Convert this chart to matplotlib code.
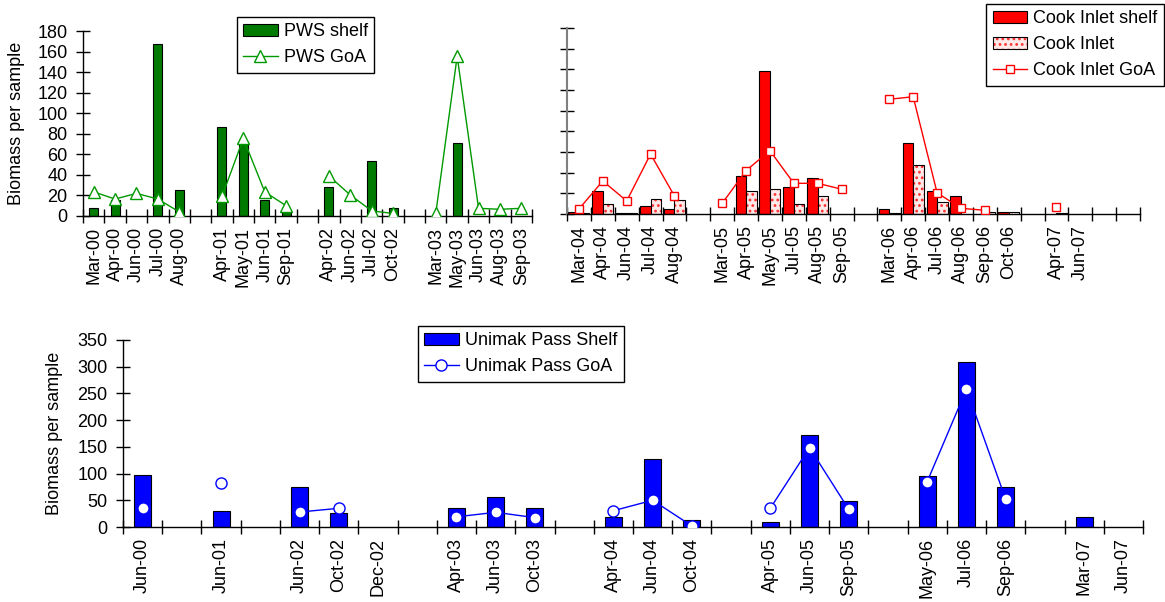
import numpy as np
import matplotlib
matplotlib.use("Agg")
import matplotlib.pyplot as plt
from matplotlib.patches import Patch
from matplotlib.lines import Line2D

plt.rcParams['font.family'] = ['Liberation Sans', 'DejaVu Sans']
plt.rcParams['font.size'] = 13
plt.rcParams['hatch.linewidth'] = 1.2

nan = np.nan

# Prince William Sound
pws_months = ['Mar-00', 'Apr-00', 'Jun-00', 'Jul-00', 'Aug-00', '',
              'Apr-01', 'May-01', 'Jun-01', 'Sep-01', '',
              'Apr-02', 'Jun-02', 'Jul-02', 'Oct-02', '',
              'Mar-03', 'May-03', 'Jun-03', 'Aug-03', 'Sep-03']
pws_shelf = [7.5, 15.5, nan, 167, 25, nan,
             87, 71, 15.5, 5, nan,
             28, nan, 54, 7.5, nan,
             nan, 71, nan, 1.5, nan]
pws_goa = [23.5, 16.5, 22, 16.5, 4, nan,
           19, 75.5, 23.5, 10, nan,
           39, 20.5, 5, 2.5, nan,
           2.5, 155.5, 7.5, 6.5, 7.5]

# Cook Inlet
ci_months = ['Mar-04', 'Apr-04', 'Jun-04', 'Jul-04', 'Aug-04', '',
             'Mar-05', 'Apr-05', 'May-05', 'Jul-05', 'Aug-05', 'Sep-05', '',
             'Mar-06', 'Apr-06', 'Jul-06', 'Aug-06', 'Sep-06', 'Oct-06', '',
             'Apr-07', 'Jun-07', '', '']
ci_shelf = [2, 22.5, 0.6, 7.5, 5.2, nan,
            nan, 37, 138, 26.5, 34.5, nan, nan,
            5.2, 68.5, 22.5, 17.7, nan, 2, nan,
            nan, nan, nan, nan]
ci_inlet = [0.6, 10, 0.6, 14.2, 13.2, nan,
            nan, 22, 24.5, 10, 17, nan, nan,
            0.6, 47.5, 11.3, nan, 2.2, 2, nan,
            0.7, nan, nan, nan]
ci_goa = [4.8, 32, 12.6, 58, 17.4, nan,
          10.3, 42, 61.3, 29.7, 29.7, 24, nan,
          111, 113.5, 20.6, 5.5, 3.6, nan, nan,
          7, nan, nan, nan]

# Unimak Pass
up_months = ['Jun-00', '', 'Jun-01', '', 'Jun-02', 'Oct-02', 'Dec-02', '',
             'Apr-03', 'Jun-03', 'Oct-03', '', 'Apr-04', 'Jun-04', 'Oct-04', '',
             'Apr-05', 'Jun-05', 'Sep-05', '', 'May-06', 'Jul-06', 'Sep-06', '',
             'Mar-07', 'Jun-07']
up_shelf = [97, nan, 30, nan, 75, 26, nan, nan,
            36, 56, 36, nan, 19, 128, 12.5, nan,
            10, 172, 49, nan, 95, 309, 75.5, nan,
            18, nan]
up_goa = [35, nan, 83, nan, 28, 35, nan, nan,
          19, 27.5, 17.5, nan, 30.5, 50, 2, nan,
          35, 148.5, 33, nan, 85, 258, 52, nan,
          nan, nan]

W, H = 1165, 602


def setup_axis(ax, labels, ymax, ystep, show_ylabels=True, yspine='black'):
    n = len(labels)
    ax.set_xlim(-0.5, n - 0.5)
    ax.set_ylim(0, ymax)
    ax.set_xticks(np.arange(n))
    ax.set_xticklabels(labels, rotation=90)
    ax.set_xticks(np.arange(n + 1) - 0.5, minor=True)
    ax.tick_params(axis='x', which='major', length=0, pad=8)
    ax.tick_params(axis='x', which='minor', direction='inout', length=10, width=1)
    ax.set_yticks(np.arange(0, ymax + 1, ystep))
    ax.tick_params(axis='y', direction='inout', length=10, width=1, pad=6,
                   labelleft=show_ylabels)
    for side in ('top', 'right'):
        ax.spines[side].set_visible(False)
    ax.spines['bottom'].set_linewidth(1)
    ax.spines['left'].set_color(yspine)
    ax.spines['left'].set_linewidth(1.5 if yspine != 'black' else 1)


def boxed_legend(ax, handles, labels, anchor, loc):
    leg = ax.legend(handles, labels, loc=loc, bbox_to_anchor=anchor,
                    bbox_transform=ax.figure.transFigure, fancybox=False,
                    edgecolor='black', framealpha=1, borderpad=0.35,
                    labelspacing=0.5, handlelength=1.9, handletextpad=0.35,
                    borderaxespad=0)
    leg.get_frame().set_linewidth(1)
    return leg


fig = plt.figure(figsize=(W / 100, H / 100), dpi=100)

# --- PWS panel ---
ax1 = fig.add_axes([83 / W, 1 - 216 / H, (532 - 83) / W, (216 - 31) / H])
x1 = np.arange(len(pws_months))
ax1.bar(x1, pws_shelf, 0.42, color='#007a00', edgecolor='black', linewidth=0.8, zorder=2)
ax1.plot(x1, pws_goa, color='#009900', lw=1, marker='^', ms=8, mfc='white',
         mec='#009900', mew=1, zorder=3)
setup_axis(ax1, pws_months, 180, 20)
ax1.set_ylabel('Biomass per sample')
ax1.yaxis.set_label_coords((25 - 83) / 449, 0.5)
boxed_legend(ax1,
             [Patch(facecolor='#007a00', edgecolor='black', linewidth=0.8),
              Line2D([], [], color='#009900', lw=1, marker='^', ms=8, mfc='white', mec='#009900')],
             ['PWS shelf', 'PWS GoA'], (237 / W, 1 - 17 / H), 'upper left')

# --- Cook Inlet panel ---
ax2 = fig.add_axes([567 / W, 1 - 214 / H, (1140 - 567) / W, (214 - 28) / H])
x2 = np.arange(len(ci_months))
bw = 0.44
ax2.bar(x2 - bw / 2, ci_shelf, bw, color='red', edgecolor='black', linewidth=0.8, zorder=2)
ax2.bar(x2 + bw / 2, ci_inlet, bw, color='#ffe8e8', edgecolor='#ff3030', hatch='...',
        linewidth=0, zorder=2)
ax2.bar(x2 + bw / 2, ci_inlet, bw, fill=False, edgecolor='black', linewidth=0.8, zorder=2)
ax2.plot(x2, ci_goa, color='red', lw=1, marker='s', ms=5.5, mfc='white', mec='red',
         mew=1, zorder=3)
setup_axis(ax2, ci_months, 180, 20, show_ylabels=False, yspine='#808080')
inlet_handle = (Patch(facecolor='#ffe8e8', edgecolor='#ff3030', hatch='...', linewidth=0),
                Patch(fill=False, edgecolor='black', linewidth=0.8))
boxed_legend(ax2,
             [Patch(facecolor='red', edgecolor='black', linewidth=0.8), inlet_handle,
              Line2D([], [], color='red', lw=1, marker='s', ms=5.5, mfc='white', mec='red')],
             ['Cook Inlet shelf', 'Cook Inlet', 'Cook Inlet GoA'],
             (1164 / W, 1 - 4 / H), 'upper right')

# --- Unimak Pass panel ---
ax3 = fig.add_axes([123 / W, 1 - 527 / H, (1143 - 123) / W, (527 - 340) / H])
x3 = np.arange(len(up_months))
ax3.bar(x3, up_shelf, 0.43, color='#0000ff', edgecolor='black', linewidth=0.8, zorder=2)
ax3.plot(x3, up_goa, color='#0000ff', lw=1, marker='o', ms=8, mfc='white',
         mec='#0000ff', mew=1, zorder=3)
setup_axis(ax3, up_months, 350, 50)
ax3.set_ylabel('Biomass per sample')
ax3.yaxis.set_label_coords((63 - 123) / 1020, 0.5)
boxed_legend(ax3,
             [Patch(facecolor='#0000ff', edgecolor='black', linewidth=0.8),
              Line2D([], [], color='#0000ff', lw=1, marker='o', ms=8, mfc='white', mec='#0000ff')],
             ['Unimak Pass Shelf', 'Unimak Pass GoA'], (418 / W, 1 - 326 / H), 'upper left')

fig.savefig('out.png', dpi=100)
